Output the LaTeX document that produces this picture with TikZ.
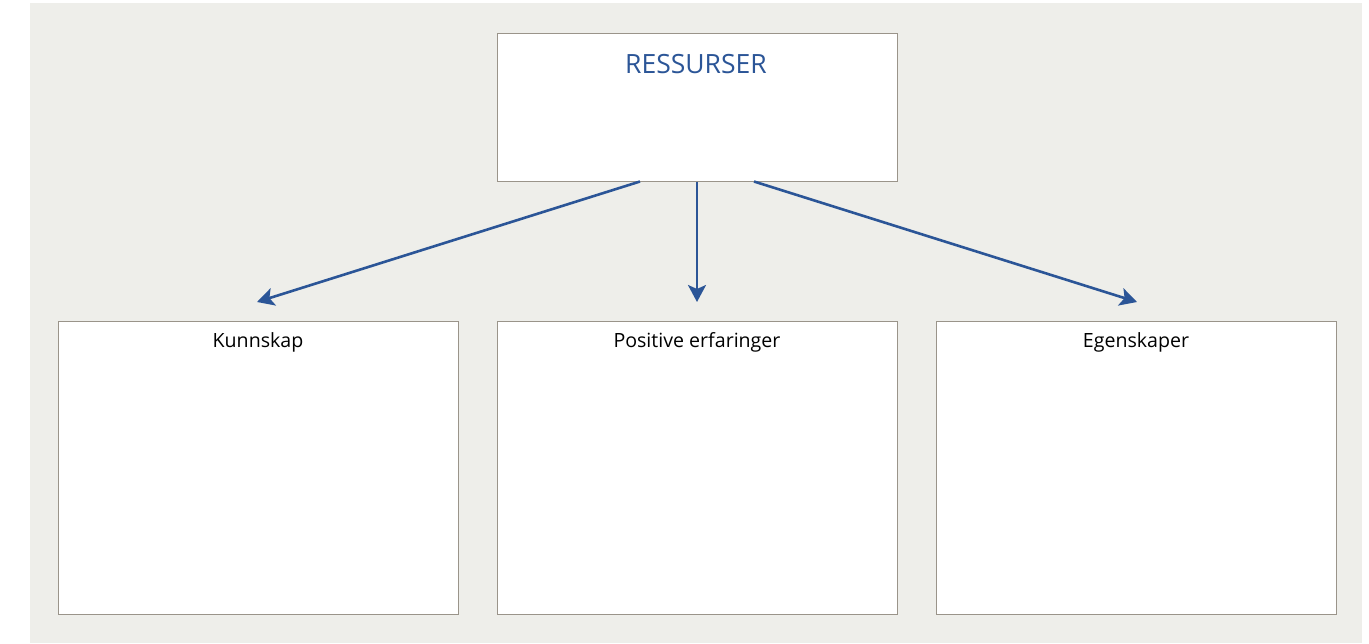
\documentclass[tikz,border=0pt]{standalone}
\usepackage{fontspec}
\setmainfont{Open Sans}
\usetikzlibrary{arrows.meta}
\definecolor{panelgray}{HTML}{EEEEEA}
\definecolor{framegray}{HTML}{9A948A}
\definecolor{resblue}{HTML}{2B5597}
\begin{document}
\begin{tikzpicture}[x=1pt,y=-1pt,
    box/.style={draw=framegray,line width=1pt,fill=white,minimum width=400pt,inner sep=0pt},
    boxtitle/.style={anchor=base,font=\fontsize{19.6}{22}\selectfont,text=black},
    conn/.style={draw=resblue,line width=2.6pt,-{Stealth[length=17pt,width=18pt,inset=4pt]}}]

    % Page and background panel
    \useasboundingbox (0,0) rectangle (1369,643);
    \fill[panelgray] (30,3) rectangle (1362,643);

    % Top box
    \node[box,minimum height=148pt] (res) at (697,107) {};
    \node[anchor=base,font=\fontsize{26.5}{30}\selectfont,text=resblue] (restitle) at (696,73) {RESSURSER};

    % Bottom boxes
    \node[box,minimum height=293pt] (kunn) at (258,467.5) {};
    \node[box,minimum height=293pt] (erf) at (697,467.5) {};
    \node[box,minimum height=293pt] (egen) at (1136,467.5) {};
    \node[boxtitle] (kunntitle) at (258,347) {Kunnskap};
    \node[boxtitle] (erftitle) at (697,347) {Positive erfaringer};
    \node[boxtitle] (egentitle) at (1136,347) {Egenskaper};

    % Arrow ends
    \coordinate (kunnend) at (257,302);
    \coordinate (erfend) at (697,302);
    \coordinate (egenend) at (1137,302);

    % Arrows
    \draw[conn] ([xshift=-57pt]res.south) -- (kunnend);
    \draw[conn] (res.south) -- (erfend);
    \draw[conn] ([xshift=57pt]res.south) -- (egenend);
\end{tikzpicture}
\end{document}
